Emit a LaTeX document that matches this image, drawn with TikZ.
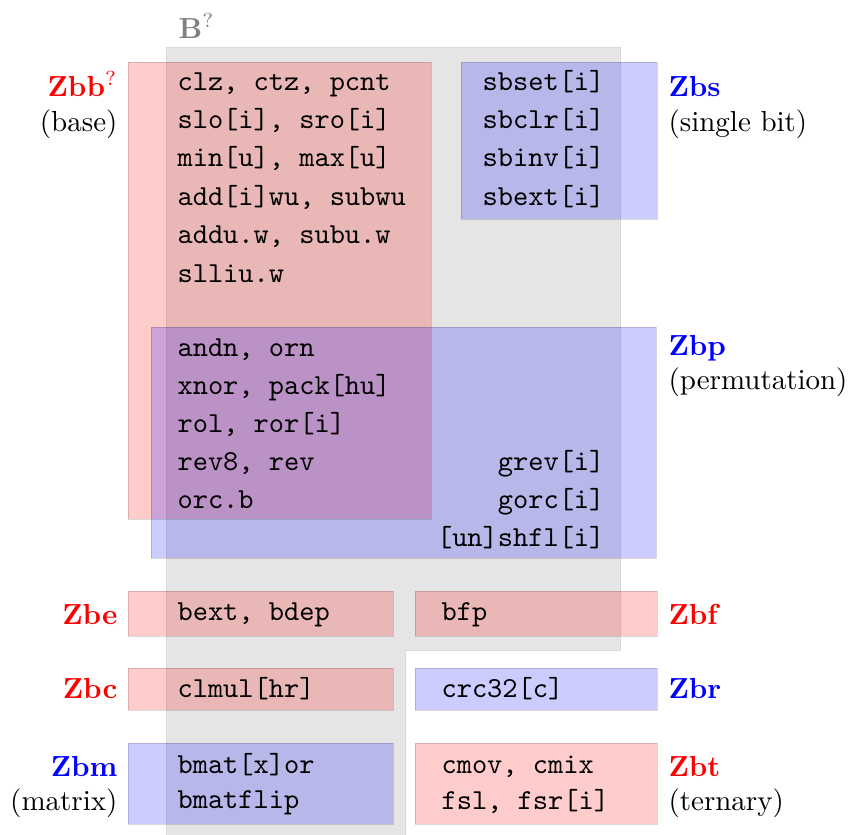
\documentclass[tikz,border=0pt]{standalone}
\usepackage{amsmath}
\usepackage{tikz}

\tikzset{
  ext/.style={fill=#1, fill opacity=0.2, draw=black, draw opacity=0.15, line width=0.3pt},
  grp/.style={font=\bfseries, text=#1, inner sep=0pt},
  sub/.style={inner sep=0pt},
  op/.style={font=\ttfamily, inner sep=0pt},
}

\begin{document}
\begin{tikzpicture}[x=0.345pt, y=-0.345pt]
    \useasboundingbox (0,0) rectangle (849,834);

    % B 的灰色区域
    \filldraw[fill=black!10, draw=black!15, line width=0.3pt]
        (166,47) -- (620,47) -- (620,650) -- (405,650) -- (405,840) -- (166,840) -- cycle;
    \node[grp=gray, anchor=base west] (B) at (178,38) {B$^?$};

    % 各个扩展的方块
    \draw[ext=red]  (128,62)  rectangle (431,519);
    \draw[ext=blue] (461,62)  rectangle (657,219);
    \draw[ext=blue] (151,327) rectangle (656,558);
    \draw[ext=red]  (128,591) rectangle (393,636);
    \draw[ext=red]  (415,591) rectangle (657,636);
    \draw[ext=red]  (128,668) rectangle (393,710);
    \draw[ext=blue] (415,668) rectangle (657,710);
    \draw[ext=blue] (128,743) rectangle (393,824);
    \draw[ext=red]  (415,743) rectangle (657,824);

    % 左侧的名称
    \node[grp=red, anchor=base east] (zbb) at (118,96) {Zbb$^?$};
    \node[sub, anchor=base east] (zbbsub) at (118,131) {(base)};
    \node[grp=red, anchor=base east] (zbe) at (118,624) {Zbe};
    \node[grp=red, anchor=base east] (zbc) at (118,698) {Zbc};
    \node[grp=blue, anchor=base east] (zbm) at (118,776) {Zbm};
    \node[sub, anchor=base east] (zbmsub) at (118,810) {(matrix)};

    % 右侧的名称
    \node[grp=blue, anchor=base west] (zbs) at (668,96) {Zbs};
    \node[sub, anchor=base west] (zbssub) at (668,131) {(single bit)};
    \node[grp=blue, anchor=base west] (zbp) at (668,355) {Zbp};
    \node[sub, anchor=base west] (zbpsub) at (668,389) {(permutation)};
    \node[grp=red, anchor=base west] (zbf) at (668,624) {Zbf};
    \node[grp=blue, anchor=base west] (zbr) at (668,698) {Zbr};
    \node[grp=red, anchor=base west] (zbt) at (668,776) {Zbt};
    \node[sub, anchor=base west] (zbtsub) at (668,810) {(ternary)};

    % 指令
    \foreach \txt [count=\i] in {{clz, ctz, pcnt}, {slo[i], sro[i]}, {min[u], max[u]},
        {add[i]wu, subwu}, {addu.w, subu.w}, {slliu.w}}
        \node[op, anchor=base west] (base\i) at (177,{90+38.4*(\i-1)}) {\txt};
    \foreach \txt [count=\i] in {{sbset[i]}, {sbclr[i]}, {sbinv[i]}, {sbext[i]}}
        \node[op, anchor=base east] (bit\i) at (605,{90+38.4*(\i-1)}) {\txt};
    \foreach \txt [count=\i] in {{andn, orn}, {xnor, pack[hu]}, {rol, ror[i]},
        {rev8, rev}, {orc.b}}
        \node[op, anchor=base west] (perm\i) at (177,{356+38.2*(\i-1)}) {\txt};
    \foreach \txt [count=\i] in {{grev[i]}, {gorc[i]}, {[un]shfl[i]}}
        \node[op, anchor=base east] (shfl\i) at (605,{470+38.2*(\i-1)}) {\txt};

    \node[op, anchor=base west] (bext)  at (177,620) {bext, bdep};
    \node[op, anchor=base west] (bfp)   at (441,620) {bfp};
    \node[op, anchor=base west] (clmul) at (177,697) {clmul[hr]};
    \node[op, anchor=base west] (crc)   at (441,697) {crc32[c]};
    \node[op, anchor=base west] (bmat)  at (177,773) {bmat[x]or};
    \node[op, anchor=base west] (bflip) at (177,808) {bmatflip};
    \node[op, anchor=base west] (cmov)  at (441,773) {cmov, cmix};
    \node[op, anchor=base west] (fsl)   at (441,809) {fsl, fsr[i]};
\end{tikzpicture}
\end{document}
